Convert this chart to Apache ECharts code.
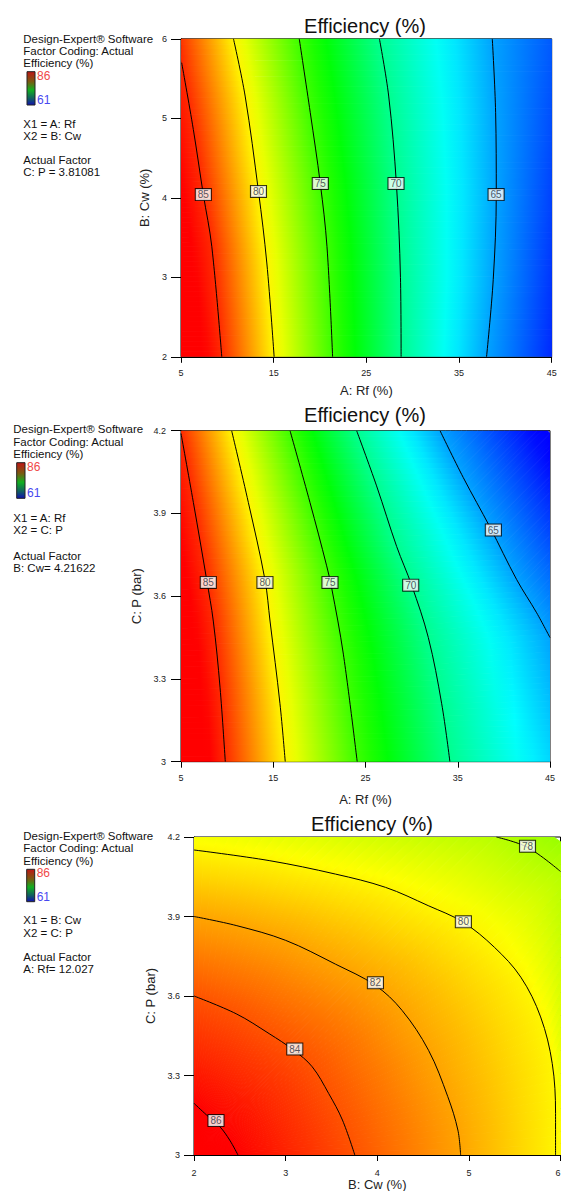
<!DOCTYPE html>
<html><head><meta charset="utf-8">
<script src="https://cdn.jsdelivr.net/npm/echarts@6/dist/echarts.min.js"></script>
<style>html,body{margin:0;padding:0;background:#fff}#c{width:561px;height:1191px}</style>
</head><body><div id="c"></div>
<script>
// ================= DATA =================
const chartTitle = 'Efficiency (%)';
const legendMax = 86, legendMin = 61;

// ---- Panel 1: x = A: Rf (%), y = B: Cw (%), actual factor C: P = 3.81081
const p1Levels = [85, 80, 75, 70, 65];
const p1C85 = [[5.07,5.70],[6.33,4.86],[7.41,4.04],[8.32,3.39],[9.40,2.00]];
const p1C80 = [[10.66,6.00],[11.92,5.28],[13.36,4.08],[14.26,3.18],[15.05,2.00]];
const p1C75 = [[17.76,6.00],[18.95,5.07],[20.03,4.18],[20.75,3.39],[21.36,2.00]];
const p1C70 = [[26.41,6.00],[27.41,5.28],[28.24,4.18],[28.68,3.00],[28.75,2.00]];
const p1C65 = [[38.59,6.00],[38.95,5.07],[39.02,4.04],[38.69,2.97],[37.97,2.00]];
const p1LabelPos = [[7.41,4.04],[13.36,4.08],[20.03,4.18],[28.2,4.18],[39.0,4.04]];
// estimated response at plot edges [x, y, value]
const p1LeftEdge = [[5,5.70,85],[5,2,87.5]];
const p1TopLeft = [[5,6,84.7]];
const p1RightEdge = [[45,6,63.2],[45,2,62.0]];

// ---- Panel 2: x = A: Rf (%), y = C: P (bar), actual factor B: Cw = 4.21622
const p2Levels = [85, 80, 75, 70, 65];
const p2C85 = [[5.0,4.19],[6.34,3.94],[7.78,3.66],[8.5,3.51],[9.23,3.27],[9.8,3.0]];
const p2C80 = [[10.49,4.2],[12.3,3.94],[14.1,3.66],[14.65,3.51],[15.73,3.21],[16.3,3.0]];
const p2C75 = [[16.82,4.2],[18.98,3.94],[20.79,3.71],[21.33,3.63],[22.6,3.39],[24.1,3.0]];
const p2C70 = [[24.04,4.2],[26.2,4.0],[28.38,3.78],[30.0,3.64],[31.81,3.45],[33.26,3.21],[34.15,3.0]];
const p2C65 = [[33.08,4.2],[35.6,4.03],[38.5,3.85],[41.39,3.66],[43.55,3.54],[45.0,3.45]];
const p2LabelPos = [[7.96,3.65],[14.1,3.65],[21.15,3.65],[29.9,3.64],[38.86,3.84]];
const p2LeftEdge = [[5,4.19,85],[5,3.0,88]];
const p2TopLeft = [[5,4.2,84.9]];
const p2BottomRight = [[45,3.0,66.3]];
const p2Corner = [[33.08,4.2,65],[45,4.2,60.5],[45,3.45,65]];

// ---- Panel 3: x = B: Cw (%), y = C: P (bar), actual factor A: Rf = 12.027
const p3Levels = [86, 84, 82, 80, 78];
const p3C86 = [[2,3.195],[2.137,3.151],[2.282,3.107],[2.39,3.056],[2.48,3.0]];
const p3C84 = [[2,3.6],[2.46,3.533],[2.82,3.458],[3.09,3.395],[3.29,3.333],[3.47,3.232],[3.62,3.132],[3.755,3.0]];
const p3C82 = [[2,3.9],[2.46,3.866],[3.0,3.81],[3.545,3.72],[3.98,3.64],[4.27,3.546],[4.56,3.395],[4.77,3.22],[4.88,3.094],[4.91,3.0]];
const p3C80 = [[2,4.151],[2.82,4.111],[3.545,4.06],[4.09,4.01],[4.556,3.941],[4.935,3.879],[5.278,3.784],[5.567,3.671],[5.783,3.521],[5.91,3.345],[5.946,3.157],[5.946,3.0]];
const p3C78 = [[5.30,4.2],[5.64,4.161],[6.0,4.07]];
const p3LabelPos = [[2.24,3.13],[3.10,3.40],[3.98,3.65],[4.94,3.88],[5.64,4.165]];
const p3Corner = [[2,3,86.9]];
const p3Outer = [[2,4.2,79.6],[5.30,4.2,78],[6,4.2,77.2],[6,4.07,78],[6,3,79.9]];

// ---- side text blocks
const p1Info = ['X1 = A: Rf', 'X2 = B: Cw', 'Actual Factor', 'C: P = 3.81081'];
const p2Info = ['X1 = A: Rf', 'X2 = C: P', 'Actual Factor', 'B: Cw= 4.21622'];
const p3Info = ['X1 = B: Cw', 'X2 = C: P', 'Actual Factor', 'A: Rf= 12.027'];
const headerLines = ['Design-Expert\u00ae Software', 'Factor Coding: Actual', 'Efficiency (%)'];

// ================= RENDERING =================
const FONT = '"Liberation Sans", Arial, sans-serif';
const CMAP = [[61,[0,0,255]],[67.25,[0,255,255]],[73.5,[0,255,0]],[79.75,[255,255,0]],[86,[255,0,0]]];
function colorOf(v) {
  if (v <= CMAP[0][0]) return 'rgb(0,0,255)';
  if (v >= CMAP[CMAP.length-1][0]) return 'rgb(255,0,0)';
  for (let i = 0; i < CMAP.length-1; i++) {
    const a = CMAP[i], b = CMAP[i+1];
    if (v >= a[0] && v <= b[0]) {
      const t = (v - a[0]) / (b[0] - a[0]);
      const c = a[1].map((x, k) => Math.round(x + (b[1][k] - x) * t));
      return 'rgb(' + c.join(',') + ')';
    }
  }
  return 'rgb(255,0,0)';
}
const withV = (pts, v) => pts.map(p => [p[0], p[1], v]);

function resample(pts, n) {
  if (pts.length === 1) { const o = []; for (let k = 0; k < n; k++) o.push(pts[0].slice()); return o; }
  const cum = [0];
  for (let i = 1; i < pts.length; i++) cum.push(cum[i-1] + Math.hypot(pts[i][0]-pts[i-1][0], pts[i][1]-pts[i-1][1]));
  const L = cum[cum.length-1];
  const out = []; let j = 0;
  for (let k = 0; k < n; k++) {
    const s = L * k / (n - 1);
    while (j < pts.length - 2 && cum[j+1] < s) j++;
    const seg = cum[j+1] - cum[j];
    const t = seg > 0 ? Math.min(1, Math.max(0, (s - cum[j]) / seg)) : 0;
    out.push([0,1,2].map(d => pts[j][d] + (pts[j+1][d] - pts[j][d]) * t));
  }
  return out;
}

function bandSeries(gi, bands) {
  return {
    type: 'custom', coordinateSystem: 'cartesian2d', xAxisIndex: gi, yAxisIndex: gi,
    silent: true, z: 1, clip: true,
    data: bands.map(b => b[0][0].slice(0, 2)),
    renderItem: function (params, api) {
      const band = bands[params.dataIndex];
      const toPx = arr => arr.map(p => { const c = api.coord([p[0], p[1]]); return [c[0], c[1], p[2]]; });
      const N = 60;
      const A = resample(toPx(band[0]), N), B = resample(toPx(band[1]), N);
      const children = [];
      for (let i = 0; i < N - 1; i++) {
        const ma = [(A[i][0]+A[i+1][0])/2, (A[i][1]+A[i+1][1])/2];
        let mb = [(B[i][0]+B[i+1][0])/2, (B[i][1]+B[i+1][1])/2];
        if (Math.hypot(mb[0]-ma[0], mb[1]-ma[1]) < 0.5) mb = [ma[0] + 0.5, ma[1]];
        const va = (A[i][2] + A[i+1][2]) / 2, vb = (B[i][2] + B[i+1][2]) / 2;
        const stops = [];
        for (let s = 0; s <= 6; s++) stops.push({ offset: s / 6, color: colorOf(va + (vb - va) * s / 6) });
        const grad = new echarts.graphic.LinearGradient(ma[0], ma[1], mb[0], mb[1], stops, true);
        children.push({
          type: 'polygon',
          shape: { points: [[A[i][0],A[i][1]],[A[i+1][0],A[i+1][1]],[B[i+1][0],B[i+1][1]],[B[i][0],B[i][1]]] },
          style: { fill: grad, stroke: grad, lineWidth: 1 }
        });
      }
      return { type: 'group', children: children };
    }
  };
}

function contourSeries(gi, lines) {
  return lines.map(pts => ({
    type: 'line', xAxisIndex: gi, yAxisIndex: gi, data: pts, smooth: 0.35,
    symbol: 'none', showSymbol: false, silent: true, z: 3,
    lineStyle: { color: '#000', width: 1 }
  }));
}

function labelSeries(gi, pos, levels) {
  return {
    type: 'scatter', xAxisIndex: gi, yAxisIndex: gi, silent: true, z: 5,
    symbolSize: 1, itemStyle: { color: 'rgba(0,0,0,0)' },
    data: pos.map((p, i) => ({ value: p, name: String(levels[i]) })),
    label: {
      show: true, position: 'inside', formatter: '{b}', fontSize: 10, fontFamily: FONT,
      color: '#2a3040', backgroundColor: '#fff', borderColor: '#000', borderWidth: 1,
      padding: [1, 2, 0, 2]
    }
  };
}

function xAx(gi, min, max, interval, name, margin, gap) {
  return {
    type: 'value', gridIndex: gi, min, max, interval, name, nameLocation: 'middle', nameGap: gap,
    nameTextStyle: { fontSize: 13, color: '#222', fontFamily: FONT },
    axisLine: { show: true, onZero: false, lineStyle: { color: '#000', width: 1 } },
    axisTick: { show: true, length: 6, lineStyle: { color: '#000' } },
    axisLabel: { fontSize: 9, color: '#222', margin, fontFamily: FONT },
    splitLine: { show: false }
  };
}
function yAx(gi, min, max, interval, name, margin, gap) {
  return {
    type: 'value', gridIndex: gi, min, max, interval, name, nameLocation: 'middle', nameGap: gap,
    nameTextStyle: { fontSize: 13, color: '#222', fontFamily: FONT },
    axisLine: { show: true, onZero: false, lineStyle: { color: '#000', width: 1 } },
    axisTick: { show: true, length: 10, lineStyle: { color: '#000' } },
    axisLabel: { fontSize: 9, color: '#222', margin, fontFamily: FONT },
    splitLine: { show: false }
  };
}

// bands: [boundaryA, boundaryB], each [x, y, value]
const p1Bands = [
  [p1LeftEdge, withV(p1C85, 85)],
  [p1TopLeft.concat(withV(p1C85, 85)), withV(p1C80, 80)],
  [withV(p1C80, 80), withV(p1C75, 75)],
  [withV(p1C75, 75), withV(p1C70, 70)],
  [withV(p1C70, 70), withV(p1C65, 65)],
  [withV(p1C65, 65), p1RightEdge]
];
const p2Bands = [
  [p2LeftEdge, withV(p2C85, 85)],
  [p2TopLeft.concat(withV(p2C85, 85)), withV(p2C80, 80)],
  [withV(p2C80, 80), withV(p2C75, 75)],
  [withV(p2C75, 75), withV(p2C70, 70)],
  [withV(p2C70, 70), withV(p2C65, 65).concat(p2BottomRight)],
  [withV(p2C65, 65), p2Corner]
];
const p3Bands = [
  [p3Corner, withV(p3C86, 86)],
  [withV(p3C86, 86), withV(p3C84, 84)],
  [withV(p3C84, 84), withV(p3C82, 82)],
  [withV(p3C82, 82), withV(p3C80, 80)],
  [withV(p3C80, 80), p3Outer]
];

const grids = [
  { left: 181, top: 38.8, width: 370.7, height: 318 },
  { left: 181, top: 430.7, width: 369, height: 331 },
  { left: 194, top: 837, width: 366.5, height: 318 }
].map(g => Object.assign(g, { show: true, borderColor: '#000', borderWidth: 1, backgroundColor: 'transparent',
  containLabel: false, outerBoundsMode: 'none' }));

// ---- side text graphics
function textEl(x, y, text, size, color, align) {
  return { type: 'text', x: x, y: y, silent: true, z: 10,
    style: { text: text, fontSize: size, fontFamily: FONT, fill: color || '#111',
      textAlign: align || 'left', textVerticalAlign: 'middle' } };
}
function sideBlock(x, ys, bar, info) {
  const els = [];
  headerLines.forEach((t, i) => els.push(textEl(x, ys[i], t, 11.5)));
  els.push({ type: 'rect', silent: true, z: 10,
    shape: { x: bar[0], y: bar[1], width: bar[2], height: bar[3] },
    style: { fill: new echarts.graphic.LinearGradient(0, 0, 0, 1, [
      { offset: 0, color: '#c01515' }, { offset: 0.3, color: '#7a5a10' },
      { offset: 0.55, color: '#10b020' }, { offset: 0.8, color: '#106060' }, { offset: 1, color: '#1010b0' }]),
      stroke: '#222', lineWidth: 1 } });
  els.push(textEl(bar[0] + bar[2] + 2, bar[1] + 4, String(legendMax), 12, '#f04848'));
  els.push(textEl(bar[0] + bar[2] + 2, bar[1] + bar[3] - 5, String(legendMin), 12, '#4848f0'));
  info.forEach((t, i) => els.push(textEl(x, ys[3 + i], t, 11.5)));
  return els;
}

const graphics = [].concat(
  sideBlock(23.3, [39, 51, 63.3, 124, 136, 160, 171.7], [27, 71.7, 8, 33.3], p1Info),
  sideBlock(13.3, [429.3, 442.3, 454, 517.7, 530, 556, 568.3], [16.7, 462.7, 8.3, 35.6], p2Info),
  sideBlock(23.3, [836, 848.3, 860.7, 920, 933.3, 956.7, 969.3], [26.7, 869.3, 8, 32.4], p3Info),
  [textEl(365, 26, chartTitle, 20, '#111', 'center'),
   textEl(365, 415, chartTitle, 20, '#111', 'center'),
   textEl(372, 824, chartTitle, 20, '#111', 'center')]
);

const series = [].concat(
  [bandSeries(0, p1Bands)],
  contourSeries(0, [p1C85, p1C80, p1C75, p1C70, p1C65]),
  [labelSeries(0, p1LabelPos, p1Levels)],
  [bandSeries(1, p2Bands)],
  contourSeries(1, [p2C85, p2C80, p2C75, p2C70, p2C65]),
  [labelSeries(1, p2LabelPos, p2Levels)],
  [bandSeries(2, p3Bands)],
  contourSeries(2, [p3C86, p3C84, p3C82, p3C80, p3C78]),
  [labelSeries(2, p3LabelPos, p3Levels)]
);

const xAxis3 = xAx(2, 2, 6, 1, 'B: Cw (%)', 13, 23);
xAxis3.axisLabel.alignMaxLabel = 'right';

const option = {
  animation: false,
  backgroundColor: '#fff',
  grid: grids,
  xAxis: [
    xAx(0, 5, 45, 10, 'A: Rf (%)', 12, 27),
    xAx(1, 5, 45, 10, 'A: Rf (%)', 12, 31),
    xAxis3
  ],
  yAxis: [
    yAx(0, 2, 6, 1, 'B: Cw (%)', 14, 30),
    yAx(1, 3, 4.2, 0.3, 'C: P (bar)', 15, 32),
    yAx(2, 3, 4.2, 0.3, 'C: P (bar)', 14, 30)
  ],
  graphic: graphics,
  series: series
};

const chart = echarts.init(document.getElementById('c'), null, { renderer: 'svg', width: 561, height: 1191 });
chart.setOption(option);
</script>
</body></html>
